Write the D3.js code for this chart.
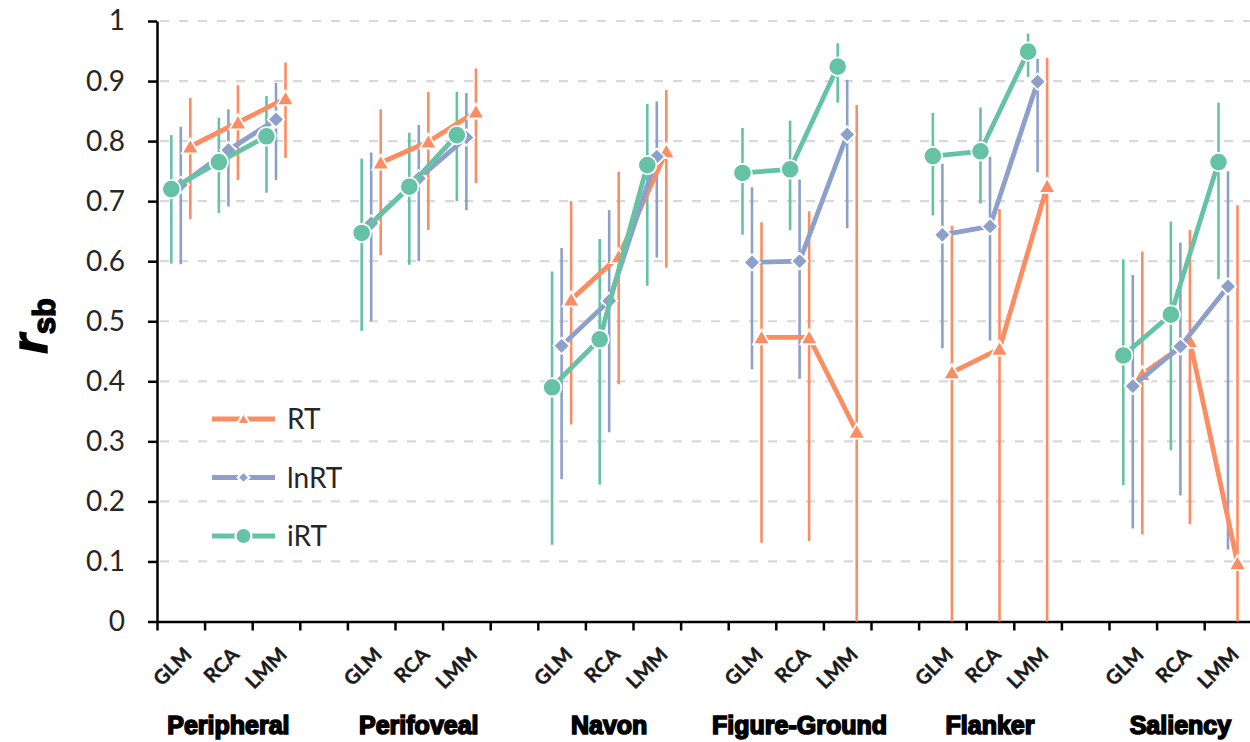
<!DOCTYPE html>
<html>
<head>
<meta charset="utf-8">
<script src="https://cdn.jsdelivr.net/npm/d3@7"></script>
<style>
  html, body { margin: 0; padding: 0; background: #fff; }
  svg { display: block; }
</style>
</head>
<body>
<svg id="chart" width="1250" height="742"></svg>
<script>
// Tasks and estimation methods
const groups = ["Peripheral", "Perifoveal", "Navon", "Figure-Ground", "Flanker", "Saliency"];
const methods = ["GLM", "RCA", "LMM"];
const yTickValues = [0, 0.1, 0.2, 0.3, 0.4, 0.5, 0.6, 0.7, 0.8, 0.9, 1];
const yTickLabels = ["0", "0.1", "0.2", "0.3", "0.4", "0.5", "0.6", "0.7", "0.8", "0.9", "1"];
const seriesNames = ["RT", "lnRT", "iRT"];

// r_sb per task x method (GLM, RCA, LMM for each task), with 95% CI bounds
const rtMean  = [0.791, 0.831, 0.871,  0.764, 0.799, 0.849,  0.536, 0.608, 0.783,  0.473, 0.473, 0.316,  0.415, 0.454, 0.725,  0.412, 0.467, 0.097];
const rtLow   = [0.670, 0.735, 0.772,  0.610, 0.652, 0.730,  0.328, 0.395, 0.589,  0.131, 0.134, 0.000,  0.000, 0.000, 0.000,  0.145, 0.162, 0.000];
const rtHigh  = [0.872, 0.893, 0.931,  0.853, 0.882, 0.921,  0.700, 0.749, 0.885,  0.665, 0.683, 0.860,  0.659, 0.687, 0.939,  0.616, 0.652, 0.693];

const lnMean  = [0.727, 0.785, 0.836,  0.663, 0.738, 0.806,  0.459, 0.534, 0.774,  0.598, 0.600, 0.811,  0.644, 0.658, 0.899,  0.392, 0.458, 0.558];
const lnLow   = [0.595, 0.691, 0.735,  0.500, 0.600, 0.685,  0.237, 0.315, 0.606,  0.420, 0.404, 0.655,  0.455, 0.468, 0.748,  0.155, 0.210, 0.120];
const lnHigh  = [0.824, 0.853, 0.897,  0.781, 0.827, 0.880,  0.622, 0.685, 0.866,  0.723, 0.736, 0.902,  0.762, 0.774, 0.937,  0.577, 0.631, 0.750];

const iMean   = [0.720, 0.765, 0.808,  0.647, 0.724, 0.810,  0.390, 0.470, 0.760,  0.747, 0.753, 0.924,  0.775, 0.783, 0.949,  0.443, 0.511, 0.765];
const iLow    = [0.596, 0.680, 0.714,  0.484, 0.594, 0.700,  0.128, 0.228, 0.559,  0.644, 0.652, 0.864,  0.676, 0.696, 0.907,  0.227, 0.285, 0.570];
const iHigh   = [0.810, 0.839, 0.875,  0.771, 0.814, 0.882,  0.583, 0.637, 0.862,  0.822, 0.834, 0.963,  0.847, 0.856, 0.979,  0.603, 0.666, 0.864];

const series = [
  { name: seriesNames[0], mean: rtMean, low: rtLow, high: rtHigh, color: "#FC8D62", offset: 0.2,  shape: "triangle" },
  { name: seriesNames[1], mean: lnMean, low: lnLow, high: lnHigh, color: "#8DA0CB", offset: 0.0,  shape: "diamond" },
  { name: seriesNames[2], mean: iMean,  low: iLow,  high: iHigh,  color: "#66C2A5", offset: -0.2, shape: "circle" }
];

const svg = d3.select("#chart");
const slotsPerGroup = 4;                      // three methods plus a spacer slot
const nSlots = groups.length * slotsPerGroup - 1;
const slotW = 47.6;
const plotLeft = 157, plotBottom = 621.5, plotTop = 21;

const x = d3.scaleLinear().domain([0, nSlots]).range([plotLeft, plotLeft + nSlots * slotW]);
const y = d3.scaleLinear().domain([0, 1]).range([plotBottom, plotTop]);

const slotIndex = (g, m) => g * slotsPerGroup + m;

// dashed horizontal gridlines
svg.append("g").selectAll("line")
  .data(yTickValues.filter(v => v > 0))
  .join("line")
  .attr("x1", plotLeft + 3).attr("x2", 1250)
  .attr("y1", d => y(d)).attr("y2", d => y(d))
  .attr("stroke", "#d9d9d9").attr("stroke-width", 2.2)
  .attr("stroke-dasharray", "9,10");

// y axis
const yAxis = svg.append("g")
  .attr("transform", `translate(${plotLeft},0)`)
  .call(d3.axisLeft(y).tickValues(yTickValues).tickSize(9).tickSizeOuter(0).tickPadding(23)
    .tickFormat((d, i) => yTickLabels[i]));
yAxis.select(".domain").attr("stroke", "#000").attr("stroke-width", 2.5);
yAxis.selectAll(".tick line").attr("stroke", "#000").attr("stroke-width", 2.5);
yAxis.selectAll(".tick text")
  .attr("font-family", "Lato, 'Open Sans', sans-serif").attr("font-size", 28)
  .attr("fill", "#262626");

// x axis with ticks on slot boundaries
const xAxis = svg.append("g")
  .attr("transform", `translate(0,${plotBottom})`)
  .call(d3.axisBottom(x).tickValues(d3.range(0, nSlots + 1)).tickSize(9).tickSizeOuter(0).tickFormat(""));
xAxis.select(".domain").attr("stroke", "#000").attr("stroke-width", 2.5);
xAxis.selectAll(".tick line").attr("stroke", "#000").attr("stroke-width", 2.5);

// method labels, rotated
const methodLabels = [];
groups.forEach((g, gi) => methods.forEach((m, mi) => methodLabels.push({ m, i: slotIndex(gi, mi) })));
svg.append("g").selectAll("text")
  .data(methodLabels)
  .join("text")
  .attr("transform", d => `translate(${x(d.i + 0.5) + 12},656) rotate(-45)`)
  .attr("text-anchor", "end")
  .attr("font-family", "Lato, sans-serif").attr("font-weight", 700).attr("font-size", 20)
  .attr("fill", "#1a1a1a").attr("stroke", "#1a1a1a").attr("stroke-width", 0.4)
  .text(d => d.m);

// task labels
svg.append("g").selectAll("text")
  .data(groups)
  .join("text")
  .attr("x", (d, gi) => x(slotIndex(gi, 1) + 0.5))
  .attr("y", 734)
  .attr("text-anchor", "middle")
  .attr("font-family", "'Liberation Sans', Arial, sans-serif").attr("font-weight", 700).attr("font-size", 25)
  .attr("fill", "#000").attr("stroke", "#000").attr("stroke-width", 1.6)
  .text(d => d);

// y axis title r_sb
const yTitle = svg.append("text")
  .attr("transform", "translate(47,326) rotate(-90)")
  .attr("text-anchor", "middle")
  .attr("font-family", "'Liberation Sans', Arial, sans-serif").attr("font-weight", 700)
  .attr("fill", "#000").attr("stroke", "#000").attr("stroke-width", 1.4);
yTitle.append("tspan").attr("font-size", 50).attr("font-style", "italic").text("r");
yTitle.append("tspan").attr("font-size", 31).attr("dy", 8).text("sb");

// marker path builders
function markerPath(shape, s) {
  if (shape === "triangle") return `M0,${-s * 0.95}L${s},${s * 0.8}L${-s},${s * 0.8}Z`;
  if (shape === "diamond") return `M0,${-s}L${s},0L0,${s}L${-s},0Z`;
  return d3.symbol(d3.symbolCircle, Math.PI * s * s)();
}
const markerSize = { triangle: 8.5, diamond: 8.2, circle: 9.2 };
const legendMarkerSize = { triangle: 6.5, diamond: 5.8, circle: 8 };

// error bars (all series beneath the lines)
const barsG = svg.append("g");
series.forEach(s => {
  const pts = [];
  groups.forEach((g, gi) => methods.forEach((m, mi) => {
    const k = gi * methods.length + mi;
    pts.push({ cx: x(slotIndex(gi, mi) + 0.5 + s.offset), lo: s.low[k], hi: s.high[k] });
  }));
  barsG.append("g").selectAll("line")
    .data(pts)
    .join("line")
    .attr("x1", d => d.cx).attr("x2", d => d.cx)
    .attr("y1", d => y(d.lo)).attr("y2", d => y(d.hi))
    .attr("stroke", s.color).attr("stroke-width", 2.6);
});

// lines and markers per series
const line = d3.line().x(d => d.cx).y(d => d.cy);
series.forEach(s => {
  const g = svg.append("g");
  groups.forEach((grp, gi) => {
    const pts = methods.map((m, mi) => {
      const k = gi * methods.length + mi;
      return { cx: x(slotIndex(gi, mi) + 0.5 + s.offset), cy: y(s.mean[k]) };
    });
    g.append("path").datum(pts)
      .attr("d", line)
      .attr("fill", "none").attr("stroke", s.color).attr("stroke-width", 4.8)
      .attr("stroke-linejoin", "round");
    g.selectAll(null).data(pts).join("path")
      .attr("transform", d => `translate(${d.cx},${d.cy})`)
      .attr("d", markerPath(s.shape, markerSize[s.shape]))
      .attr("fill", s.color).attr("stroke", "#fff").attr("stroke-width", 1.8);
  });
});

// legend
const legend = svg.append("g").attr("transform", "translate(212,419)");
series.forEach((s, i) => {
  const row = legend.append("g").attr("transform", `translate(0,${i * 58.5})`);
  row.append("line").attr("x1", 0).attr("x2", 63).attr("y1", 0).attr("y2", 0)
    .attr("stroke", s.color).attr("stroke-width", 5);
  row.append("path").attr("transform", "translate(31.5,0)")
    .attr("d", markerPath(s.shape, legendMarkerSize[s.shape]))
    .attr("fill", s.color).attr("stroke", "#fff").attr("stroke-width", 2.2);
  row.append("text").attr("x", 75).attr("y", 10)
    .attr("font-family", "Lato, sans-serif").attr("font-size", 28).attr("fill", "#262626")
    .text(s.name);
});
</script>
</body>
</html>
